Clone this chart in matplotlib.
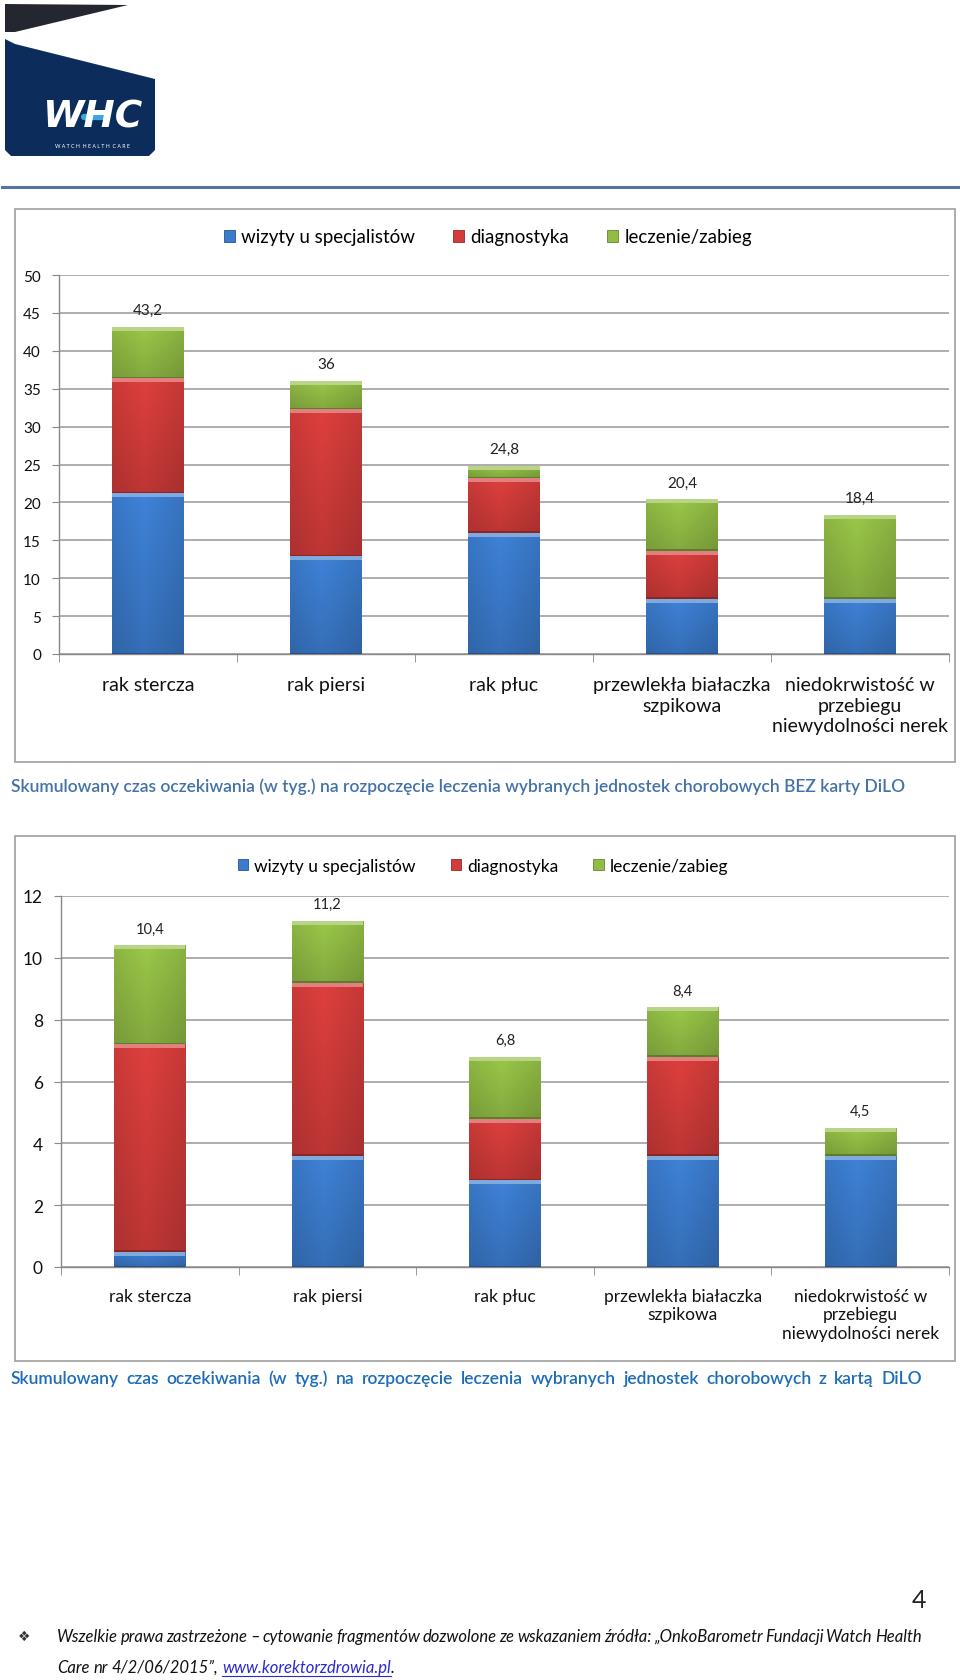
import numpy as np
import matplotlib
matplotlib.use("Agg")
import matplotlib.pyplot as plt
import matplotlib.colors as mcolors
from matplotlib.patches import Rectangle, Patch, Polygon
from matplotlib.lines import Line2D

plt.rcParams["font.family"] = ["Lato", "DejaVu Sans"]

# ---- data ----
categories = ["rak stercza", "rak piersi", "rak płuc",
              "przewlekła białaczka\nszpikowa",
              "niedokrwistość w\nprzebiegu\nniewydolności nerek"]
series_names = ["wizyty u specjalistów", "diagnostyka", "leczenie/zabieg"]

bez_wizyty = [21.2, 12.9, 16.0, 7.3, 7.3]
bez_diag = [15.2, 19.4, 7.2, 6.3, 0.0]
bez_lecz = [6.8, 3.7, 1.6, 6.8, 11.1]

z_wizyty = [0.5, 3.6, 2.8, 3.6, 3.6]
z_diag = [6.7, 5.6, 2.0, 3.2, 0.0]
z_lecz = [3.2, 2.0, 2.0, 1.6, 0.9]

caption1 = ("Skumulowany czas oczekiwania (w tyg.) na rozpoczęcie leczenia "
            "wybranych jednostek chorobowych BEZ karty DiLO")
caption2 = ("Skumulowany czas oczekiwania (w tyg.) na rozpoczęcie leczenia "
            "wybranych jednostek chorobowych z kartą DiLO")
footer1 = ("Wszelkie prawa zastrzeżone – cytowanie fragmentów dozwolone ze "
           "wskazaniem źródła: „OnkoBarometr Fundacji Watch Health")

colors = ["#3b7bcc", "#d23c3a", "#92bd45"]

W, H = 960, 1681
fig = plt.figure(figsize=(9.6, 16.81), dpi=100)


def fx(x):
    return x / W


def fy(y):
    return 1 - y / H


def lighten(c, a):
    c = np.array(mcolors.to_rgb(c))
    return tuple(c + (1 - c) * a)


def darken(c, a):
    c = np.array(mcolors.to_rgb(c))
    return tuple(c * (1 - a))


def shade(ax, p, color, px):
    x0, y0, w, h = p.get_x(), p.get_y(), p.get_width(), p.get_height()
    if h <= 0:
        return
    base = np.array(mcolors.to_rgb(color))
    xx = np.linspace(0, 1, 40)
    yy = np.linspace(0, 1, 80)
    horiz = 1 - 0.10 * np.abs(xx - 0.45) * 2
    vert = 1.06 - 0.16 * yy
    img = np.clip(base[None, None, :] * horiz[None, :, None] * vert[:, None, None], 0, 1)
    im = ax.imshow(img, extent=(x0, x0 + w, y0, y0 + h), origin="upper",
                   aspect="auto", zorder=2, interpolation="bilinear")
    im.set_clip_path(p)
    hh = min(4 * px, h * 0.5)
    ax.add_patch(Rectangle((x0, y0 + h - hh), w, hh, color=lighten(color, 0.35),
                           zorder=3, lw=0))
    bh = min(1.5 * px, h * 0.2)
    ax.add_patch(Rectangle((x0, y0), w, bh, color=darken(color, 0.35),
                           zorder=3, lw=0))


def chart(box, axr, data, ymax, ystep, fs_tick, fs_cat, cat_pad, cat_ls,
          fs_leg, leg_xy, fs_lab):
    bx0, by0, bx1, by1 = box
    fig.add_artist(Rectangle((fx(bx0), fy(by1)), (bx1 - bx0) / W, (by1 - by0) / H,
                             transform=fig.transFigure, fill=False,
                             edgecolor="#a6a6a6", lw=1.3))
    ax0, ay0, ax1, ay1 = axr
    ax = fig.add_axes([fx(ax0), fy(ay1), (ax1 - ax0) / W, (ay1 - ay0) / H])
    px = ymax / (ay1 - ay0)
    x = np.arange(len(categories))
    bottom = np.zeros(len(categories))
    for vals, c in zip(data, colors):
        bars = ax.bar(x, vals, 0.4, bottom=bottom, color=c, zorder=2, lw=0)
        for p in bars:
            shade(ax, p, c, px)
        bottom = bottom + np.array(vals)
    for xi, tot in zip(x, bottom):
        lab = f"{round(tot, 1):g}".replace(".", ",")
        ax.annotate(lab, (xi, tot), xytext=(0, 12), textcoords="offset points",
                    ha="center", va="center", fontsize=fs_lab, color="#222222")
    ax.set_xlim(-0.5, len(categories) - 0.5)
    ax.set_ylim(0, ymax)
    ax.set_yticks(np.arange(0, ymax + 0.01, ystep))
    ax.tick_params(axis="y", labelsize=fs_tick, length=5, color="#888888",
                   pad=8, labelcolor="#111111")
    ax.set_xticks(x)
    ax.set_xticklabels(categories, fontsize=fs_cat, linespacing=cat_ls,
                       color="#111111")
    ax.tick_params(axis="x", which="major", length=0, pad=cat_pad)
    ax.set_xticks(np.arange(-0.5, len(categories)), minor=True)
    ax.tick_params(axis="x", which="minor", length=6, color="#888888")
    ax.yaxis.grid(True, color="#a0a0a0", lw=1.2)
    ax.set_axisbelow(True)
    for s in ["top", "right"]:
        ax.spines[s].set_visible(False)
    for s in ["left", "bottom"]:
        ax.spines[s].set_color("#888888")
        ax.spines[s].set_linewidth(1.0)
    handles = [Patch(facecolor=c, edgecolor=darken(c, 0.3), lw=0.6) for c in colors]
    fig.legend(handles, series_names, loc="center", ncol=3, frameon=False,
               bbox_to_anchor=(fx(leg_xy[0]), fy(leg_xy[1])), fontsize=fs_leg,
               handlelength=0.6, handleheight=0.6, handletextpad=0.35,
               columnspacing=2.0)
    return ax


# ---- logo ----
fig.add_artist(Polygon([(fx(5), fy(5)), (fx(128), fy(6)), (fx(15), fy(33)),
                        (fx(5), fy(33))], closed=True, transform=fig.transFigure,
                       color="#24272f", lw=0))
fig.add_artist(Polygon([(fx(5), fy(40)), (fx(15), fy(45)), (fx(155), fy(80)),
                        (fx(155), fy(151)), (fx(149), fy(157)), (fx(11), fy(157)),
                        (fx(5), fy(151))], closed=True, transform=fig.transFigure,
                       color="#0c2c5c", lw=0))
fig.text(fx(93), fy(117), "WHC", color="white", fontsize=27, fontweight="bold",
         style="italic", ha="center", va="center", family="DejaVu Sans")
fig.add_artist(Line2D([fx(84), fx(104)], [fy(118), fy(118)], color="#39a6e2",
                      lw=4.5, solid_capstyle="round", transform=fig.transFigure))
fig.text(fx(92), fy(146), "W A T C H  H E A L T H  C A R E", color="white",
         fontsize=3.8, ha="center", va="center")
fig.add_artist(Line2D([fx(2), fx(960)], [fy(188), fy(188)], color="#5274a6",
                      lw=2.2, transform=fig.transFigure))

# ---- charts ----
chart((15, 210, 955, 763), (59, 276, 949, 655),
      [bez_wizyty, bez_diag, bez_lecz], 50, 5, 11, 14, 16, 1.25,
      13.5, (488, 238), 11)
chart((15, 837, 955, 1362), (61, 897, 949, 1268),
      [z_wizyty, z_diag, z_lecz], 12, 2, 12.5, 12.5, 15, 1.2,
      12.5, (483, 867), 10.5)

# ---- texts ----
r = fig.canvas.get_renderer()


def words_at(words, x0, x1, y, justify, **kw):
    ts = [fig.text(0, fy(y), w, va="center", ha="left", **kw) for w in words]
    widths = [t.get_window_extent(r).width for t in ts]
    if justify:
        gap = (x1 - x0 - sum(widths)) / (len(words) - 1)
    else:
        a = fig.text(0, 0, "a a", **kw)
        b = fig.text(0, 0, "aa", **kw)
        gap = a.get_window_extent(r).width - b.get_window_extent(r).width
        a.remove()
        b.remove()
    xx = x0
    for t, wd in zip(ts, widths):
        t.set_x(fx(xx))
        xx += wd + gap
    return xx - gap


t = fig.text(fx(11), fy(787), caption1, fontsize=12, fontweight="semibold",
             color="#4472a8", va="center")
wd = t.get_window_extent(r).width
cap_fs = 12 * 892 / wd
t.set_fontsize(cap_fs)
words_at(caption2.split(), 11, 922, 1379, True, fontsize=cap_fs,
         fontweight="semibold", color="#1c6cb8")

fig.text(fx(926), fy(1601), "4", fontsize=18, ha="right", va="center",
         color="#222222")
fig.text(fx(24), fy(1637), "❖", fontsize=10, ha="center", va="center",
         color="#333333", family=["DejaVu Sans"])
words_at(footer1.split(), 57, 922, 1637, True, fontsize=12, style="italic",
         color="#111111")
end = words_at("Care nr 4/2/06/2015”,".split(), 57, 0, 1668, False,
               fontsize=12, style="italic", color="#111111")
sp = fig.text(0, 0, "a a", fontsize=12, style="italic")
sq = fig.text(0, 0, "aa", fontsize=12, style="italic")
gap = sp.get_window_extent(r).width - sq.get_window_extent(r).width
sp.remove()
sq.remove()
lk = fig.text(fx(end + gap), fy(1668), "www.korektorzdrowia.pl", fontsize=12,
              style="italic", color="#2a2ad0", va="center")
lw_ = lk.get_window_extent(r).width
fig.add_artist(Line2D([fx(end + gap), fx(end + gap + lw_)], [fy(1677), fy(1677)],
                      color="#2a2ad0", lw=0.8, transform=fig.transFigure))
fig.text(fx(end + gap + lw_), fy(1668), ".", fontsize=12, style="italic",
         color="#111111", va="center")

fig.savefig("out.png", dpi=100, facecolor="white")
